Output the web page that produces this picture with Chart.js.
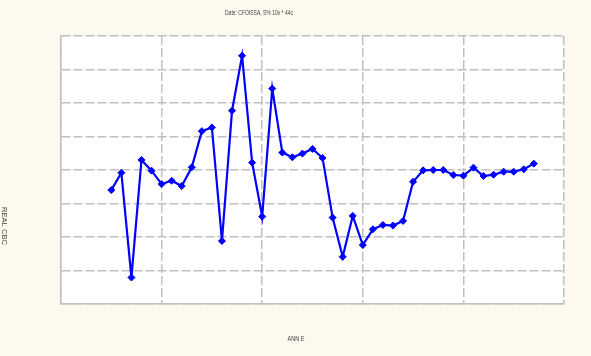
<!DOCTYPE html>
<html>
<head>
<meta charset="utf-8">
<script src="https://cdn.jsdelivr.net/npm/chart.js@4.4.1/dist/chart.umd.min.js"></script>
<style>
  html, body { margin: 0; padding: 0; background: #fdf9ee; }
  #wrap { width: 591px; height: 356px; }
</style>
</head>
<body>
<div id="wrap"><canvas id="graphe" width="591" height="356"></canvas></div>
<script>
// donnees
const annees = [1955, 1956, 1957, 1958, 1959, 1960, 1961, 1962, 1963, 1964,
                1965, 1966, 1967, 1968, 1969, 1970, 1971, 1972, 1973, 1974,
                1975, 1976, 1977, 1978, 1979, 1980, 1981, 1982, 1983, 1984,
                1985, 1986, 1987, 1988, 1989, 1990, 1991, 1992, 1993, 1994,
                1995, 1996, 1997];
const valeurs = [3.40, 3.92, 0.79, 4.30, 3.98, 3.58, 3.68, 3.52, 4.08, 5.16,
                 5.27, 1.88, 5.77, 7.41, 4.22, 2.61, 6.43, 4.52, 4.38, 4.49,
                 4.63, 4.36, 2.58, 1.41, 2.63, 1.76, 2.23, 2.36, 2.34, 2.48,
                 3.65, 3.99, 4.00, 4.00, 3.85, 3.83, 4.07, 3.82, 3.86, 3.95,
                 3.95, 4.02, 4.19];
const titre = 'Date: CFOISSA, S% 10v * 44c';
const titreX = 'ANN E';
const titreY = 'REAL CBC';

const grille = '#c0c0c0';

// fond blanc de la zone de trace + textes
const decor = {
    id: 'decor',
    beforeDraw(chart) {
        const c = chart.ctx, a = chart.chartArea;
        c.save();
        c.fillStyle = '#ffffff';
        c.fillRect(a.left, a.top, a.right - a.left, a.bottom - a.top);
        c.restore();
    },
    afterDraw(chart) {
        const c = chart.ctx;
        c.save();
        c.fillStyle = '#444';
        c.font = '8px "Liberation Sans Narrow", "Liberation Sans", sans-serif';
        c.textAlign = 'center';
        c.textBaseline = 'middle';
        c.fillText(titre, 259, 13, 68);
        c.fillText(titreX, 296, 339, 17);
        c.translate(4, 226);
        c.rotate(Math.PI / 2);
        c.fillText(titreY, 0, 0, 38);
        c.restore();
    }
};

const ctx = document.getElementById('graphe').getContext('2d');
new Chart(ctx, {
    type: 'line',
    data: {
        datasets: [{
            data: annees.map((a, i) => ({ x: a, y: valeurs[i] })),
            borderColor: '#0000ff',
            backgroundColor: '#0000ff',
            borderWidth: 2.2,
            pointStyle: 'rectRot',
            pointRadius: 3.5,
            pointBorderWidth: 1,
            tension: 0
        }]
    },
    options: {
        responsive: false,
        animation: false,
        layout: { padding: { left: 61, right: 27, top: 36, bottom: 52 } },
        plugins: { legend: { display: false }, tooltip: { enabled: false } },
        scales: {
            x: {
                type: 'linear', min: 1950, max: 2000,
                ticks: { display: false, stepSize: 10 },
                grid: { color: grille, lineWidth: 1.5, drawTicks: false },
                border: { display: true, color: grille, width: 1.5, dash: [9, 3] }
            },
            y: {
                min: 0, max: 8,
                ticks: { display: false, stepSize: 1 },
                grid: { color: grille, lineWidth: 1.5, drawTicks: false },
                border: { display: true, color: grille, width: 1.5, dash: [9, 3] }
            }
        }
    },
    plugins: [decor]
});
</script>
</body>
</html>
